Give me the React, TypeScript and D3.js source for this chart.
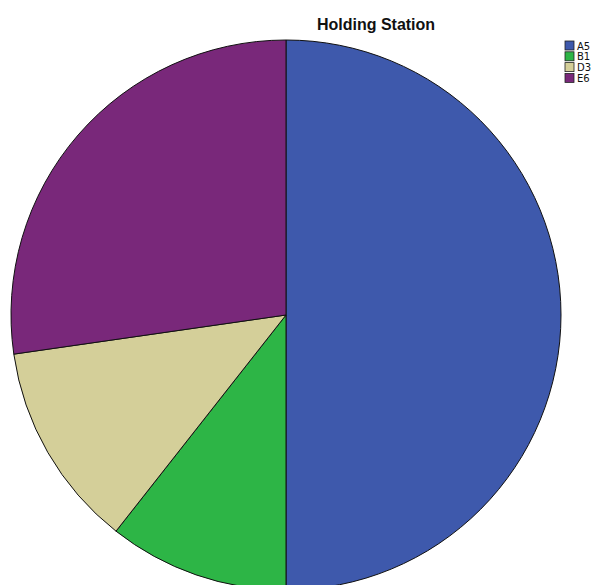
import React, { useEffect, useRef } from 'react';
import * as d3 from 'd3';

const categories = ['A5', 'B1', 'D3', 'E6'];
const counts = [33, 7, 8, 18];
const colors = ['#3e59ac', '#2db546', '#d4cf99', '#79287a'];

const App: React.FC = () => {
  const svgRef = useRef<SVGSVGElement>(null);

  useEffect(() => {
    if (!svgRef.current) return;
    const svg = d3.select(svgRef.current);
    svg.selectAll('*').remove();

    const cx = 286;
    const cy = 315;
    const radius = 275;

    const data = categories.map((c, i) => ({ name: c, value: counts[i], color: colors[i] }));

    const pie = d3.pie<any>()
      .value((d: any) => d.value)
      .sort(null);

    const arc = d3.arc<any>()
      .innerRadius(0)
      .outerRadius(radius);

    const g = svg.append('g').attr('transform', `translate(${cx},${cy})`);

    g.selectAll('path')
      .data(pie(data))
      .enter()
      .append('path')
      .attr('d', arc)
      .attr('fill', (d: any) => d.data.color)
      .attr('stroke', '#111')
      .attr('stroke-width', 1)
      .attr('stroke-linejoin', 'round');

    // Title
    svg.append('text')
      .attr('x', 376)
      .attr('y', 30)
      .attr('text-anchor', 'middle')
      .attr('font-family', 'Liberation Sans, Arial, sans-serif')
      .attr('font-weight', 'bold')
      .attr('font-size', '16px')
      .attr('fill', '#111')
      .text('Holding Station');

    // Legend
    const legend = svg.append('g').attr('transform', 'translate(565,41)');
    const items = legend.selectAll('g')
      .data(data)
      .enter()
      .append('g')
      .attr('transform', (_d: any, i: number) => `translate(0,${i * 10.8})`);

    items.append('rect')
      .attr('width', 9)
      .attr('height', 9)
      .attr('fill', (d: any) => d.color)
      .attr('stroke', '#222')
      .attr('stroke-width', 0.8);

    items.append('text')
      .attr('x', 12)
      .attr('y', 8.5)
      .attr('font-family', 'DejaVu Sans, sans-serif')
      .attr('font-size', '10px')
      .attr('fill', '#111')
      .text((d: any) => d.name);
  }, []);

  return (
    <svg
      ref={svgRef}
      width={596}
      height={585}
      style={{ position: 'absolute', left: 0, top: 0, background: '#fff' }}
    />
  );
};

export default App;
